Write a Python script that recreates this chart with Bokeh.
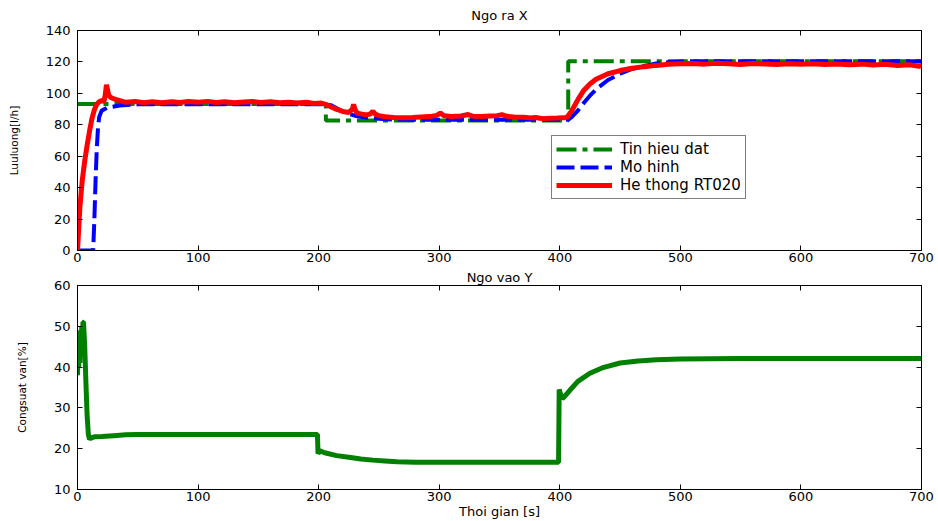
from bokeh.plotting import figure
from bokeh.models import LinearAxis, Legend, LegendItem, FixedTicker, Range1d
from bokeh.layouts import column
from bokeh.embed import file_html
from bokeh.resources import INLINE

FONT = "DejaVu Sans"

# ---------------- data ----------------
x_ticks = [0, 100, 200, 300, 400, 500, 600, 700]
top_y_ticks = [0, 20, 40, 60, 80, 100, 120, 140]
bot_y_ticks = [10, 20, 30, 40, 50, 60]

top_title = "Ngo ra X"
bot_title = "Ngo vao Y"
top_ylabel = "Luuluong[l/h]"
bot_ylabel = "Congsuat van[%]"
xlabel = "Thoi gian [s]"

series_names = ["Tin hieu dat", "Mo hinh", "He thong RT020"]

# setpoint (Tin hieu dat)
setpoint = [(0, 93.3), (206, 93.3), (206, 82.8), (407, 82.8), (407, 120.5), (700, 120.5)]

# model (Mo hinh)
model = [(0, 0), (13, 0), (14, 20), (15, 45), (16, 65), (17, 78), (18, 85), (20, 89),
         (25, 91), (35, 92.3), (50, 93), (206, 93), (210, 92.5), (215, 90.5), (220, 88.5),
         (225, 87), (230, 85.8), (240, 84.5), (250, 83.8), (260, 83.4), (280, 83.2),
         (407, 83.2), (410, 85), (415, 89), (420, 94), (425, 98.5), (430, 102.5),
         (440, 108.5), (450, 112.5), (460, 115.5), (470, 117.5), (480, 119), (490, 119.8),
         (500, 120.3), (520, 120.5), (700, 120.5)]

# measured system (He thong RT020)
system = [(0, 0), (1, 14), (2, 28), (4, 45), (6, 57), (8, 67), (10, 76), (12, 84),
          (14, 89.5), (16, 93), (18, 94.8), (20, 95.3), (22, 95), (23, 99), (24, 105.5),
          (25, 102), (26, 98.5), (28, 97.2), (32, 96), (36, 95.2), (40, 94.3), (48, 94.8),
          (55, 94.1), (62, 94.6), (70, 94.0), (78, 94.7), (85, 94.2), (92, 94.8), (100, 94.3),
          (108, 94.9), (115, 94.2), (122, 94.6), (130, 94.0), (138, 94.5), (145, 94.8),
          (152, 94.2), (160, 94.6), (168, 94.0), (175, 94.4), (182, 93.8), (190, 94.3),
          (196, 93.6), (202, 93.8), (206, 93.0), (210, 91.5), (215, 89.8), (220, 88.5),
          (225, 87.8), (228, 90), (229, 93), (230, 90), (232, 87.3), (236, 86.8), (240, 86.3),
          (243, 87), (245, 88.6), (247, 86.8), (250, 85.8), (255, 85.2), (262, 84.6),
          (270, 84.4), (278, 84.6), (285, 85.0), (292, 85.2), (298, 86.0), (301, 87.5),
          (304, 85.8), (310, 85.3), (318, 85.6), (324, 86.5), (328, 85.4), (335, 85.2),
          (342, 85.6), (348, 85.8), (352, 86.5), (356, 85.4), (362, 85.0), (370, 84.8),
          (376, 84.4), (380, 84.6), (386, 83.9), (392, 84.2), (398, 84.3), (403, 84.4),
          (406, 84.8), (410, 89), (415, 96), (420, 102), (425, 106), (430, 109),
          (440, 112.5), (450, 114.5), (460, 116), (470, 117), (480, 117.8), (490, 118.5),
          (500, 118.8), (510, 119), (520, 118.6), (530, 119.2), (540, 118.8), (550, 118.4),
          (560, 119), (570, 118.7), (580, 118.3), (590, 118.8), (600, 118.5), (610, 118.9),
          (620, 118.4), (630, 118.7), (640, 118.2), (650, 118.6), (660, 118.1), (670, 118.5),
          (680, 117.8), (690, 118.2), (698, 117.2), (700, 117.8)]

# control signal (Congsuat van)
control = [(0, 38), (0.5, 44), (1, 40), (1.5, 47), (2, 41), (2.5, 49), (3, 43), (3.5, 50),
           (4, 45), (4.5, 51), (5, 51), (6, 45), (7, 36), (8, 28), (9, 23.5), (10, 22.3),
           (11, 22.6), (14, 22.9), (20, 23.0), (30, 23.2), (40, 23.4), (50, 23.5),
           (100, 23.5), (199, 23.5), (199.5, 18.8), (201, 19.5), (205, 19.0), (215, 18.3),
           (225, 17.9), (235, 17.5), (245, 17.2), (255, 17.0), (265, 16.8), (280, 16.7),
           (399, 16.7), (399.5, 34.5), (401, 33), (402, 32.3), (404, 32.8), (408, 34.2),
           (415, 36.5), (425, 38.5), (435, 39.8), (450, 41), (465, 41.5), (480, 41.8),
           (500, 42), (550, 42.1), (700, 42.1)]


def split(pairs):
    return [a for a, b in pairs], [b for a, b in pairs]


def style(p, yticks, ylabel):
    xa = p.below[0]
    ya = p.left[0]
    p.xgrid.visible = False
    p.ygrid.visible = False
    p.outline_line_color = "black"
    p.outline_line_width = 1
    p.background_fill_color = "white"
    p.border_fill_color = "white"
    xa.ticker = FixedTicker(ticks=x_ticks)
    ya.ticker = FixedTicker(ticks=yticks)
    for ax in (xa, ya):
        ax.major_tick_in = 5
        ax.major_tick_out = 0
        ax.minor_tick_in = 0
        ax.minor_tick_out = 0
        ax.axis_line_color = "black"
        ax.major_tick_line_color = "black"
        ax.major_label_text_font = FONT
        ax.major_label_text_font_size = "13px"
        ax.major_label_text_color = "black"
    xa.major_label_standoff = 2
    ya.major_label_standoff = 7
    ya.axis_label = ylabel
    ya.axis_label_text_font = FONT
    ya.axis_label_text_font_size = "10.5px"
    ya.axis_label_text_font_style = "normal"
    ya.axis_label_text_color = "black"
    ya.axis_label_standoff = 23
    for loc, ticks in (("above", x_ticks), ("right", yticks)):
        ax = LinearAxis(ticker=FixedTicker(ticks=ticks), major_tick_in=5, major_tick_out=0,
                        minor_tick_in=0, minor_tick_out=0, major_label_text_font_size="1px",
                        major_label_text_color=None, major_label_standoff=0,
                        axis_line_color="black", major_tick_line_color="black")
        p.add_layout(ax, loc)
    p.title.align = "center"
    p.title.text_font = FONT
    p.title.text_font_size = "13px"
    p.title.text_font_style = "normal"
    p.title.text_color = "black"
    return xa, ya


# ---------------- top figure ----------------
p1 = figure(width=938, height=266, x_range=Range1d(0, 700), y_range=Range1d(0, 140),
            output_backend="svg", toolbar_location=None, title=top_title,
            min_border_left=77, min_border_right=17, min_border_top=30, min_border_bottom=16)
style(p1, top_y_ticks, top_ylabel)
p1.title.standoff = 12
p1.title.vertical_align = "top"

st, sv = split(setpoint)
mt, mv = split(model)
yt, yv = split(system)
r_set = p1.line(st, sv, line_color="#008000", line_width=4, line_dash="20 6 5 6")
r_mod = p1.line(mt, mv, line_color="#0000ff", line_width=4, line_dash="18 6")
r_sys = p1.line(yt, yv, line_color="#ff0000", line_width=5)

legend = Legend(items=[LegendItem(label=series_names[0], renderers=[r_set]),
                       LegendItem(label=series_names[1], renderers=[r_mod]),
                       LegendItem(label=series_names[2], renderers=[r_sys])],
                location=(474, 51), margin=0, padding=4, spacing=0,
                glyph_width=56, glyph_height=16, label_height=16, label_standoff=8,
                label_text_font=FONT, label_text_font_size="15px", label_text_color="black",
                border_line_color="black", border_line_width=1,
                background_fill_color="white", background_fill_alpha=1)
p1.add_layout(legend)

# ---------------- bottom figure ----------------
p2 = figure(width=938, height=255, x_range=Range1d(0, 700), y_range=Range1d(10, 60),
            output_backend="svg", toolbar_location=None, title=bot_title,
            min_border_left=77, min_border_right=17, min_border_top=17, min_border_bottom=32)
xa2, ya2 = style(p2, bot_y_ticks, bot_ylabel)
p2.title.standoff = 2
xa2.axis_label = xlabel
xa2.axis_label_text_font = FONT
xa2.axis_label_text_font_size = "13px"
xa2.axis_label_text_font_style = "normal"
xa2.axis_label_text_color = "black"
xa2.axis_label_standoff = 0

ct, cv = split(control)
p2.line(ct, cv, line_color="#008000", line_width=5)

layout = column(p1, p2, spacing=0)
open("out.html", "w").write(file_html(layout, INLINE))
